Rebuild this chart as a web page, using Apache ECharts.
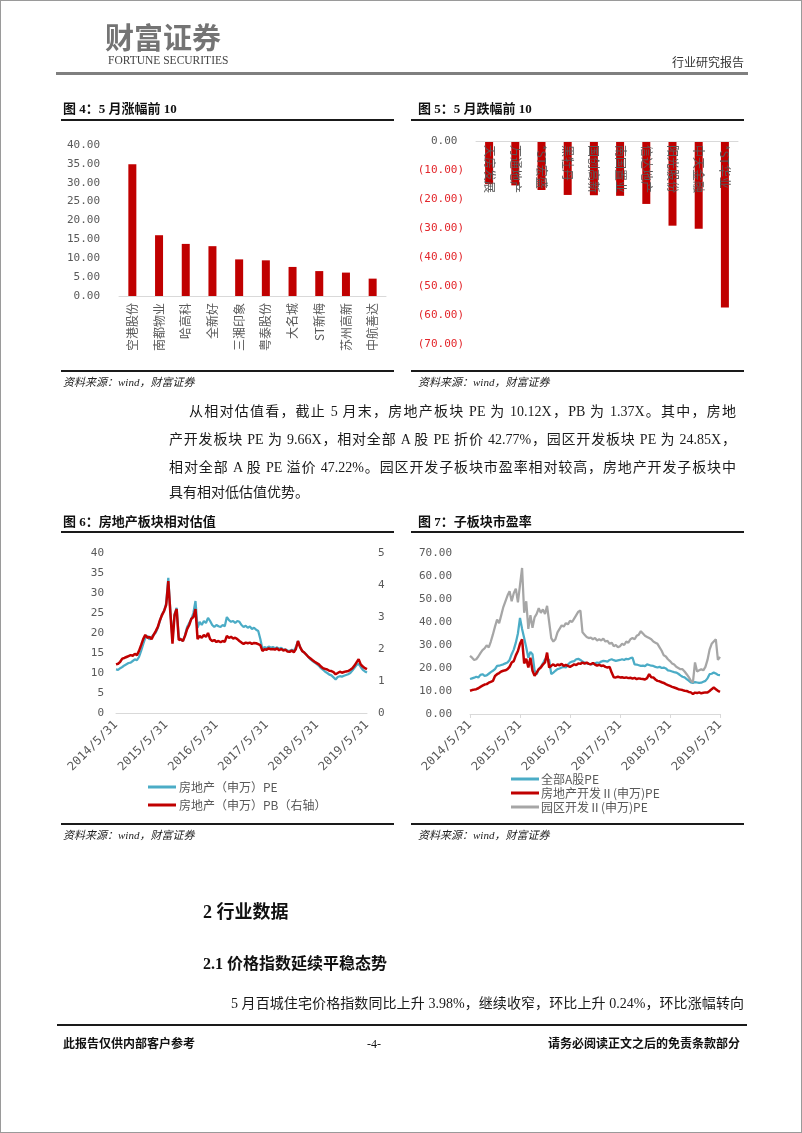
<!DOCTYPE html>
<html><head><meta charset="utf-8">
<script src="https://cdn.jsdelivr.net/npm/echarts@6/dist/echarts.min.js"></script>
<style>
html,body{margin:0;padding:0;background:#fff;}
#page{position:relative;width:802px;height:1133px;overflow:hidden;background:#fff;box-sizing:border-box;border:1px solid #9a9a9a;}
#chart{position:absolute;left:0;top:0;width:802px;height:1133px;}
.t{position:absolute;line-height:1;white-space:nowrap;font-family:"Liberation Serif","Noto Sans CJK SC",serif;color:#111;}
.hl{position:absolute;background:#1a1a1a;}
.ttl{font-size:13px;font-weight:bold;}
.src{font-size:11px;font-style:italic;color:#222;}
.p{position:absolute;line-height:1;font-family:"Liberation Serif","Noto Sans CJK SC",serif;font-size:14px;color:#1a1a1a;text-align:justify;text-align-last:justify;}
</style></head>
<body><div id="page">
<div id="chart"></div>
<div class="t" style="left:104px;top:21px;font-size:29px;font-weight:bold;color:#747474;font-family:'Noto Sans CJK SC';">财富证券</div>
<div class="t" style="left:107px;top:54px;font-size:11.5px;color:#444;">FORTUNE SECURITIES</div>
<div class="t" style="left:671px;top:55px;font-size:12px;color:#333;font-family:'Noto Sans CJK SC';">行业研究报告</div>
<div class="hl" style="left:55px;top:71px;width:692px;height:3px;background:#7f7f7f;"></div>

<div class="t ttl" style="left:62px;top:101px;">图 4：5 月涨幅前 10</div>
<div class="t ttl" style="left:417px;top:101px;">图 5：5 月跌幅前 10</div>
<div class="hl" style="left:60px;top:118px;width:333px;height:1.5px;"></div>
<div class="hl" style="left:410px;top:118px;width:333px;height:1.5px;"></div>
<div class="hl" style="left:60px;top:369px;width:333px;height:1.5px;"></div>
<div class="hl" style="left:410px;top:369px;width:333px;height:1.5px;"></div>
<div class="t src" style="left:62px;top:376px;">资料来源：wind，财富证券</div>
<div class="t src" style="left:417px;top:376px;">资料来源：wind，财富证券</div>

<div class="p" style="left:188px;top:404px;width:547px;">从相对估值看，截止 5 月末，房地产板块 PE 为 10.12X，PB 为 1.37X。其中，房地</div>
<div class="p" style="left:168px;top:432px;width:567px;">产开发板块 PE 为 9.66X，相对全部 A 股 PE 折价 42.77%，园区开发板块 PE 为 24.85X，</div>
<div class="p" style="left:168px;top:460px;width:567px;">相对全部 A 股 PE 溢价 47.22%。园区开发子板块市盈率相对较高，房地产开发子板块中</div>
<div class="t" style="left:168px;top:485px;font-size:14px;color:#1a1a1a;">具有相对低估值优势。</div>

<div class="t ttl" style="left:62px;top:514px;">图 6：房地产板块相对估值</div>
<div class="t ttl" style="left:417px;top:514px;">图 7：子板块市盈率</div>
<div class="hl" style="left:60px;top:530px;width:333px;height:1.5px;"></div>
<div class="hl" style="left:410px;top:530px;width:333px;height:1.5px;"></div>
<div class="hl" style="left:60px;top:822px;width:333px;height:1.5px;"></div>
<div class="hl" style="left:410px;top:822px;width:333px;height:1.5px;"></div>
<div class="t src" style="left:62px;top:829px;">资料来源：wind，财富证券</div>
<div class="t src" style="left:417px;top:829px;">资料来源：wind，财富证券</div>

<div class="t" style="left:202px;top:902px;font-size:18px;font-weight:bold;">2 行业数据</div>
<div class="t" style="left:202px;top:955px;font-size:16px;font-weight:bold;">2.1 价格指数延续平稳态势</div>
<div class="p" style="left:230px;top:996px;width:513px;">5 月百城住宅价格指数同比上升 3.98%，继续收窄，环比上升 0.24%，环比涨幅转向</div>
<div class="hl" style="left:56px;top:1023px;width:690px;height:2px;"></div>
<div class="t" style="left:62px;top:1037px;font-size:12px;font-weight:bold;">此报告仅供内部客户参考</div>
<div class="t" style="left:366px;top:1037px;font-size:12px;">-4-</div>
<div class="t" style="left:547px;top:1037px;font-size:12px;font-weight:bold;">请务必阅读正文之后的免责条款部分</div>
</div>
<script>
// ---- Figure 4: top 10 gainers in May ----
const cats4 = ['空港股份','南都物业','哈高科','全新好','三湘印象','粤泰股份','大名城','ST新梅','苏州高新','中航善达'];
const up4 = [34.9,16.1,13.8,13.2,9.7,9.45,7.7,6.6,6.2,4.6];
// ---- Figure 5: top 10 decliners in May ----
const cats5 = ['天房发展','万通地产','*ST宏盛','黑牡丹','国创高新','南国置业','信达地产','阳光股份','中天金融','*ST华业'];
const down5 = [-14.9,-15.3,-16.9,-18.6,-18.7,-18.9,-21.7,-29.2,-30.3,-57.4];
// ---- Date categories (half-monthly) and tick labels ----
const tickLabels = ['2014/5/31','2015/5/31','2016/5/31','2017/5/31','2018/5/31','2019/5/31'];
const dates = [];
for (let m = 0; m <= 60; m++) {
  const y = 2014 + Math.floor((4 + m) / 12), mo = (4 + m) % 12 + 1;
  const last = new Date(y, mo, 0).getDate();
  if (m > 0) dates.push(y + '/' + mo + '/15');
  dates.push(y + '/' + mo + '/' + last);
}
// ---- Figure 6: real estate PE / PB ----
const pe6 = [10.9,10.8,11.2,11.5,11.9,12.2,12.5,12.6,13.0,13.4,
 13.2,14.0,15.5,17.2,18.8,19.3,18.4,19.0,19.6,20.1,
 21.3,23.0,24.7,25.5,27.5,33.8,25.5,18.5,24.7,26.3,
 19.0,18.3,18.0,19.5,21.5,22.5,23.5,25.0,28.0,21.3,
 22.8,22.0,23.0,22.5,23.8,23.0,22.0,21.5,22.0,21.7,
 21.5,22.0,21.7,24.0,23.2,22.8,23.0,22.5,23.0,22.8,
 22.0,21.5,21.8,21.3,21.6,21.0,21.3,20.8,20.5,18.5,
 16.0,16.5,16.2,16.6,16.3,16.5,16.2,16.4,16.0,16.3,
 15.8,15.9,15.6,15.5,15.8,15.5,16.5,18.0,16.5,15.5,
 15.1,14.6,14.0,13.4,13.0,12.6,12.2,11.8,11.2,10.8,
 10.3,10.0,9.6,9.4,8.9,8.4,9.0,9.2,9.1,9.3,
 9.5,9.7,10.0,10.6,11.3,12.0,12.3,11.5,10.8,10.4,
 10.12];
const pb6 = [1.52,1.54,1.60,1.70,1.72,1.75,1.78,1.81,1.79,1.85,
 1.81,1.94,2.12,2.31,2.44,2.35,2.38,2.31,2.44,2.56,
 2.69,2.90,3.06,3.19,3.38,4.12,3.12,2.17,3.06,3.25,
 2.28,2.31,2.25,2.41,2.62,2.75,2.94,3.00,3.25,2.31,
 2.41,2.35,2.44,2.38,2.50,2.31,2.25,2.28,2.22,2.25,
 2.21,2.25,2.22,2.41,2.35,2.38,2.33,2.35,2.31,2.25,
 2.20,2.16,2.20,2.18,2.20,2.16,2.19,2.18,2.15,2.12,
 1.94,1.99,1.98,2.02,1.99,2.00,1.98,2.02,1.96,2.00,
 1.95,1.98,1.92,1.91,1.95,1.90,2.00,2.25,2.06,1.94,
 1.89,1.82,1.75,1.70,1.65,1.60,1.56,1.52,1.45,1.40,
 1.38,1.36,1.32,1.31,1.28,1.21,1.25,1.29,1.26,1.28,
 1.30,1.31,1.35,1.40,1.48,1.58,1.68,1.52,1.45,1.40,
 1.37];
// ---- Figure 7: sub-sector PE ----
const allA = [15.2,15.5,15.8,16.2,15.9,17.0,17.3,16.6,16.8,17.5,
 18.2,18.8,19.5,20.9,21.0,21.3,21.6,22.0,22.4,23.5,
 26.0,28.0,31.0,35.0,41.8,37.0,33.0,28.9,24.5,27.0,
 26.0,19.0,17.3,19.5,20.5,22.0,23.8,24.0,23.5,17.3,
 18.0,18.8,19.5,19.8,20.2,20.5,20.2,21.5,22.4,22.8,
 23.0,23.8,24.0,23.5,22.8,22.4,22.0,21.8,21.6,21.8,
 22.0,22.4,22.2,22.8,23.1,23.0,22.8,23.5,23.8,23.4,
 23.1,23.3,23.5,23.8,23.5,24.0,23.8,24.3,24.5,21.6,
 21.5,21.2,20.9,21.0,20.8,21.6,21.3,21.0,20.9,20.5,
 20.2,20.5,20.0,20.2,19.8,19.0,18.8,18.5,18.2,18.0,
 17.5,16.8,16.2,15.9,15.2,14.5,13.7,13.5,13.9,13.7,
 13.5,13.6,14.0,14.4,15.5,17.3,17.5,18.0,17.6,17.0,
 16.88];
const reDev = [10.1,10.4,10.6,10.8,11.2,11.8,12.3,12.8,13.0,13.6,
 14.0,14.4,16.5,17.3,17.8,18.5,18.8,19.0,19.5,20.5,
 22.4,23.0,25.5,27.4,30.5,32.5,22.0,24.0,20.2,24.5,
 18.8,16.6,18.0,19.5,20.2,21.5,22.4,26.7,20.2,21.0,
 21.6,20.8,21.6,21.2,21.8,20.9,21.3,20.9,20.5,21.0,
 21.6,21.3,22.0,21.8,22.4,21.9,22.4,21.8,21.6,22.2,
 21.5,21.0,21.4,20.9,21.1,20.5,20.2,20.5,18.0,16.0,
 15.9,16.2,15.9,16.0,15.7,15.9,15.6,15.8,15.4,15.7,
 15.2,15.5,15.3,15.2,15.0,15.6,17.3,16.0,15.9,15.0,
 14.4,14.2,13.8,13.5,13.0,12.6,12.2,11.8,11.5,11.2,
 10.8,10.6,10.4,10.1,10.0,9.6,9.4,8.7,9.3,9.1,
 9.4,9.0,9.2,9.4,9.3,10.0,10.8,11.5,10.8,10.1,
 9.66];
const parkDev = [25.3,24.5,23.5,23.8,25.0,26.5,27.8,28.5,29.8,29.0,
 31.5,34.6,38.0,41.0,39.5,43.0,46.5,49.0,51.5,53.4,
 49.0,52.5,54.5,48.5,56.0,63.5,44.0,49.0,37.0,43.0,
 37.5,42.0,43.5,46.0,44.0,45.5,43.5,47.0,40.0,33.0,
 31.5,32.5,35.5,37.0,38.5,38.0,39.5,39.0,40.5,40.0,
 41.5,43.0,44.5,45.0,35.5,34.5,33.5,33.0,33.2,32.5,
 33.0,32.0,32.5,32.0,32.8,31.5,31.8,30.5,31.0,29.5,
 30.0,29.0,29.5,30.5,30.0,31.5,31.0,32.5,33.0,32.5,
 34.0,34.5,36.0,35.0,34.0,33.5,33.0,32.5,31.5,31.0,
 30.5,29.0,27.5,25.5,25.0,23.8,23.0,22.0,21.5,20.5,
 20.0,19.5,19.5,18.5,17.3,16.0,14.5,13.7,22.4,18.5,
 19.0,19.5,19.0,20.5,23.5,28.0,30.5,31.5,32.5,23.5,
 24.85];

const MONO = 'DejaVu Sans Mono';
const CJK = 'Noto Sans CJK SC';
const GRAY = '#595959';
const RED = '#c00000', BLUE = '#4bacc6', LGRAY = '#a6a6a6';
const yearTick = (i, v) => tickLabels.indexOf(v) >= 0;

const catAxis = (gi, data, extra) => Object.assign({
  type: 'category', gridIndex: gi, data: data,
  axisLine: {lineStyle: {color: '#d9d9d9', width: 1}},
  axisTick: {show: false}, splitLine: {show: false}
}, extra);
const valAxis = (gi, extra) => Object.assign({
  type: 'value', gridIndex: gi,
  axisLine: {show: false}, axisTick: {show: false}, splitLine: {show: false}
}, extra);

const chart = echarts.init(document.getElementById('chart'), null, {renderer: 'canvas'});
chart.setOption({
  animation: false,
  backgroundColor: 'transparent',
  grid: [
    {left: 118, top: 144, width: 267, height: 151},
    {left: 475, top: 140, width: 262, height: 203},
    {left: 115, top: 552, width: 251, height: 160},
    {left: 469, top: 552, width: 250, height: 161}
  ],
  xAxis: [
    catAxis(0, cats4, {axisLabel: {rotate: 90, fontSize: 12, color: GRAY, fontFamily: CJK, margin: 7, interval: 0}}),
    catAxis(1, cats5, {z: 10, position: 'top',
      axisLine: {onZero: false, lineStyle: {color: '#d9d9d9', width: 1}},
      axisLabel: {inside: true, rotate: 90, fontSize: 12, color: GRAY, fontFamily: CJK, margin: 4, interval: 0}}),
    catAxis(2, dates, {boundaryGap: false,
      axisLabel: {rotate: 45, fontSize: 12, color: GRAY, fontFamily: MONO, margin: 10, interval: yearTick}}),
    catAxis(3, dates, {boundaryGap: false,
      axisTick: {show: true, interval: yearTick, length: 4, lineStyle: {color: '#d9d9d9'}},
      axisLabel: {rotate: 45, fontSize: 12, color: GRAY, fontFamily: MONO, margin: 9, interval: yearTick}})
  ],
  yAxis: [
    valAxis(0, {min: 0, max: 40, interval: 5,
      axisLabel: {fontSize: 11, color: GRAY, fontFamily: MONO, margin: 19, formatter: v => v.toFixed(2)}}),
    valAxis(1, {min: -70, max: 0, interval: 10,
      axisLabel: {margin: 12, fontFamily: MONO, fontSize: 11,
        formatter: v => v < 0 ? '{n|(' + Math.abs(v).toFixed(2) + ')}' : '{p|' + v.toFixed(2) + ' }',
        rich: {n: {color: '#e3262b', fontFamily: MONO, fontSize: 11}, p: {color: GRAY, fontFamily: MONO, fontSize: 11}}}}),
    valAxis(2, {min: 0, max: 40, interval: 5,
      axisLabel: {fontSize: 11, color: GRAY, fontFamily: MONO, margin: 12}}),
    valAxis(2, {position: 'right', min: 0, max: 5, interval: 1,
      axisLabel: {fontSize: 11, color: GRAY, fontFamily: MONO, margin: 11}}),
    valAxis(3, {min: 0, max: 70, interval: 10,
      axisLabel: {fontSize: 11, color: GRAY, fontFamily: MONO, margin: 18, formatter: v => v.toFixed(2)}})
  ],
  legend: [
    {data: ['房地产（申万）PE', '房地产（申万）PB（右轴）'], orient: 'vertical', left: 142, top: 775,
      icon: 'rect', itemWidth: 28, itemHeight: 3, itemGap: 6, selectedMode: false,
      textStyle: {fontSize: 12, color: GRAY, fontFamily: CJK, padding: [0, 0, 0, -2]}},
    {data: ['全部A股PE', '房地产开发Ⅱ(申万)PE', '园区开发Ⅱ(申万)PE'], orient: 'vertical', left: 505, top: 767,
      icon: 'rect', itemWidth: 28, itemHeight: 3, itemGap: 2, selectedMode: false,
      textStyle: {fontSize: 12, color: GRAY, fontFamily: CJK, padding: [0, 0, 0, -3]}}
  ],
  series: [
    {type: 'bar', name: '涨幅', xAxisIndex: 0, yAxisIndex: 0, data: up4, barWidth: 8, itemStyle: {color: RED}},
    {type: 'bar', name: '跌幅', xAxisIndex: 1, yAxisIndex: 1, data: down5, barWidth: 8, itemStyle: {color: RED}},
    {type: 'line', name: '房地产（申万）PE', xAxisIndex: 2, yAxisIndex: 2, data: pe6, symbol: 'none',
      color: BLUE, lineStyle: {width: 2.25, color: BLUE}},
    {type: 'line', name: '房地产（申万）PB（右轴）', xAxisIndex: 2, yAxisIndex: 3, data: pb6, symbol: 'none',
      color: RED, lineStyle: {width: 2.5, color: RED}},
    {type: 'line', name: '全部A股PE', xAxisIndex: 3, yAxisIndex: 4, data: allA, symbol: 'none',
      color: BLUE, lineStyle: {width: 2.25, color: BLUE}},
    {type: 'line', name: '房地产开发Ⅱ(申万)PE', xAxisIndex: 3, yAxisIndex: 4, data: reDev, symbol: 'none',
      color: RED, lineStyle: {width: 2.5, color: RED}},
    {type: 'line', name: '园区开发Ⅱ(申万)PE', xAxisIndex: 3, yAxisIndex: 4, data: parkDev, symbol: 'none',
      color: LGRAY, lineStyle: {width: 2.25, color: LGRAY}}
  ]
});
</script>
</body></html>
